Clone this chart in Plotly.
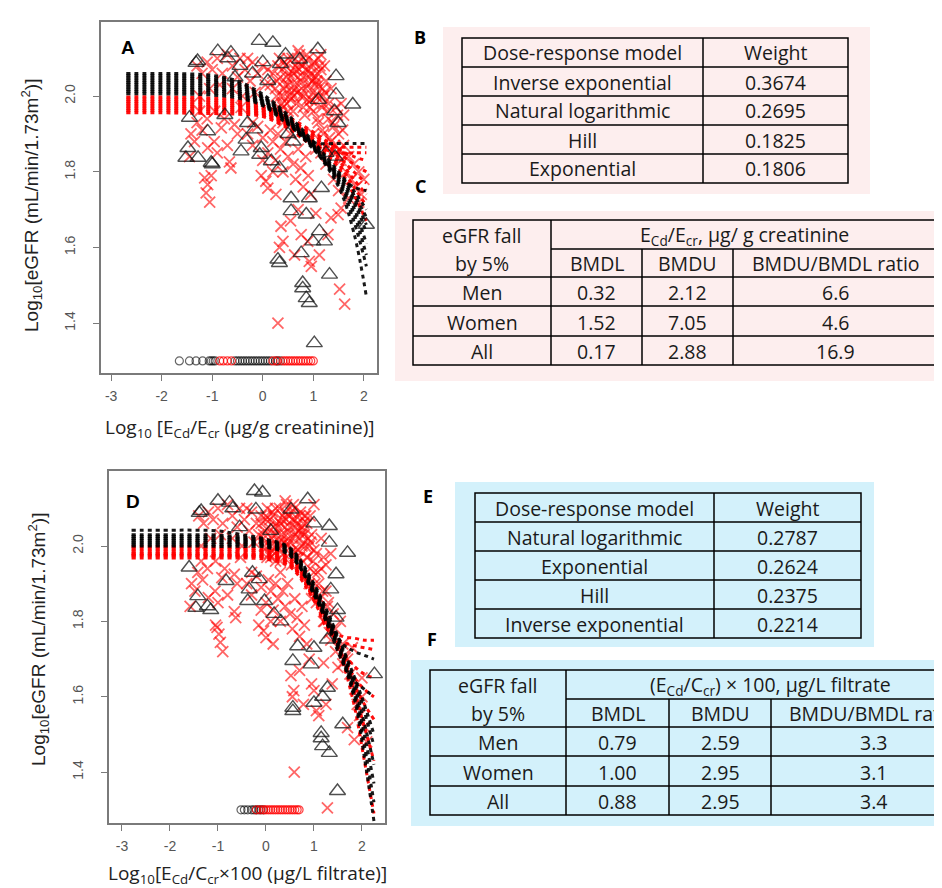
import plotly.graph_objects as go

W, H = 942, 888

# ---------------- DATA ----------------
# Panel A: model curves (x grid + y per curve)
CURVE_X_A = [-2.70, -2.00, -1.50, -1.00, -0.50, 0.00, 0.50, 1.00, 1.50, 1.80, 2.05]
BLACK_CURVES_A = [
    [2.060, 2.060, 2.059, 2.055, 2.040, 2.005, 1.950, 1.880, 1.800, 1.750, 1.700],
    [2.054, 2.054, 2.053, 2.049, 2.035, 2.000, 1.945, 1.875, 1.795, 1.740, 1.680],
    [2.048, 2.048, 2.047, 2.043, 2.030, 1.997, 1.942, 1.872, 1.790, 1.730, 1.660],
    [2.042, 2.042, 2.041, 2.038, 2.025, 1.994, 1.940, 1.870, 1.785, 1.720, 1.640],
    [2.036, 2.036, 2.035, 2.032, 2.020, 1.990, 1.937, 1.868, 1.780, 1.705, 1.610],
    [2.030, 2.030, 2.029, 2.026, 2.015, 1.987, 1.935, 1.866, 1.775, 1.690, 1.580],
    [2.024, 2.024, 2.023, 2.020, 2.010, 1.984, 1.932, 1.864, 1.770, 1.670, 1.550],
    [2.018, 2.018, 2.017, 2.015, 2.005, 1.981, 1.930, 1.862, 1.760, 1.640, 1.470],
    [2.012, 2.012, 2.011, 2.009, 2.000, 1.978, 1.928, 1.860, 1.790, 1.760, 1.750],
    [2.006, 2.006, 2.005, 2.003, 1.995, 1.975, 1.925, 1.878, 1.875, 1.875, 1.875],
]
RED_CURVES_A = [
    [1.998, 1.998, 1.997, 1.995, 1.990, 1.975, 1.945, 1.905, 1.860, 1.840, 1.830],
    [1.992, 1.992, 1.991, 1.989, 1.984, 1.970, 1.940, 1.898, 1.850, 1.820, 1.800],
    [1.986, 1.986, 1.985, 1.983, 1.979, 1.966, 1.935, 1.892, 1.840, 1.800, 1.770],
    [1.980, 1.980, 1.979, 1.977, 1.974, 1.962, 1.930, 1.886, 1.830, 1.780, 1.740],
    [1.974, 1.974, 1.973, 1.971, 1.969, 1.958, 1.926, 1.880, 1.820, 1.760, 1.710],
    [1.968, 1.968, 1.967, 1.965, 1.963, 1.954, 1.922, 1.875, 1.810, 1.740, 1.670],
    [1.962, 1.962, 1.961, 1.960, 1.958, 1.950, 1.918, 1.872, 1.865, 1.865, 1.865],
    [1.956, 1.956, 1.955, 1.954, 1.952, 1.946, 1.914, 1.870, 1.850, 1.850, 1.850],
]

# Panel D: model curves
CURVE_X_D = [-2.80, -2.00, -1.50, -1.00, -0.50, 0.00, 0.50, 1.00, 1.30, 1.60, 1.85, 2.05, 2.25]
BLACK_CURVES_D = [
    [2.042, 2.042, 2.042, 2.040, 2.030, 2.018, 1.995, 1.900, 1.820, 1.730, 1.650, 1.580, 1.500],
    [2.030, 2.030, 2.030, 2.029, 2.024, 2.015, 1.992, 1.895, 1.815, 1.725, 1.640, 1.560, 1.470],
    [2.025, 2.025, 2.025, 2.024, 2.020, 2.012, 1.989, 1.890, 1.808, 1.715, 1.625, 1.530, 1.420],
    [2.020, 2.020, 2.020, 2.019, 2.016, 2.009, 1.986, 1.885, 1.800, 1.705, 1.610, 1.500, 1.370],
    [2.015, 2.015, 2.015, 2.014, 2.012, 2.006, 1.983, 1.880, 1.795, 1.700, 1.600, 1.470, 1.320],
    [2.010, 2.010, 2.010, 2.009, 2.008, 2.003, 1.980, 1.875, 1.790, 1.695, 1.590, 1.440, 1.270],
    [2.005, 2.005, 2.005, 2.004, 2.004, 2.000, 1.977, 1.870, 1.785, 1.690, 1.640, 1.620, 1.600],
    [2.000, 2.000, 2.000, 1.999, 1.999, 1.997, 1.974, 1.880, 1.800, 1.740, 1.720, 1.710, 1.700],
]
RED_CURVES_D = [
    [1.998, 1.998, 1.998, 1.997, 1.995, 1.990, 1.970, 1.880, 1.800, 1.720, 1.680, 1.660, 1.650],
    [1.992, 1.992, 1.992, 1.991, 1.990, 1.985, 1.965, 1.875, 1.795, 1.710, 1.650, 1.620, 1.600],
    [1.986, 1.986, 1.986, 1.985, 1.984, 1.980, 1.960, 1.870, 1.790, 1.705, 1.630, 1.580, 1.540],
    [1.980, 1.980, 1.980, 1.979, 1.978, 1.975, 1.955, 1.865, 1.785, 1.700, 1.610, 1.520, 1.430],
    [1.977, 1.977, 1.977, 1.976, 1.975, 1.972, 1.952, 1.862, 1.782, 1.690, 1.570, 1.430, 1.290],
    [1.974, 1.974, 1.974, 1.974, 1.973, 1.970, 1.950, 1.860, 1.780, 1.760, 1.755, 1.750, 1.750],
    [1.968, 1.968, 1.968, 1.968, 1.968, 1.965, 1.945, 1.855, 1.775, 1.745, 1.735, 1.730, 1.725],
]

# Panel A: triangles (black)
TRI_A_X = [-0.07, 0.20, 1.09, -0.89, -0.63, -0.69, -1.29, -1.32, 0.73, 0.00,
           -0.45, 0.35, 1.45, 1.45, 1.78, 1.10, -1.45, -1.09, -0.30, -0.16,
           -0.33, -0.43, -0.03, -0.06, -1.48, -1.52, -1.28, -1.02, 0.17, 0.33,
           1.49, 1.42, 0.56, 0.92, 0.56, 0.86, 2.05, 1.16, 1.12, 0.99,
           1.22, 0.76, 0.30, 0.33, 1.32, 0.79, 0.79, 0.86, 0.92, 1.02,
           -0.55, -0.20, 0.10, 0.45, 0.60, 1.25, 1.43, 0.50, -0.75, -1.00]
TRI_A_Y = [2.146, 2.141, 2.124, 2.119, 2.115, 2.100, 2.093, 2.088, 2.097, 2.090,
           2.080, 2.085, 2.053, 2.004, 1.978, 1.990, 1.943, 1.907, 1.929, 1.912,
           1.885, 1.854, 1.863, 1.845, 1.863, 1.837, 1.837, 1.824, 1.828, 1.810,
           1.929, 1.960, 1.730, 1.730, 1.696, 1.687, 1.660, 1.757, 1.643, 1.616,
           1.616, 1.585, 1.568, 1.559, 1.528, 1.506, 1.492, 1.466, 1.453, 1.347,
           2.050, 2.060, 2.040, 2.110, 1.880, 1.850, 1.840, 1.900, 1.950, 1.820]

# Panel D: triangles (black)
TRI_D_X = [-0.24, -0.07, 0.87, -1.00, -0.76, -0.69, -1.35, -1.39, 0.52, -0.21,
           1.32, 1.32, 1.70, 1.00, -1.60, -0.83, -0.28, -0.14, -0.35, -0.38,
           -0.03, -1.42, -1.46, -1.22, -1.15, 0.17, 0.31, 1.46, 1.35, 0.66,
           1.00, 0.56, 0.94, 2.26, 1.28, 1.28, 1.18, 1.00, 0.56, 0.56,
           1.60, 1.15, 1.15, 1.18, 1.32, 1.49, 1.46, 1.49, -0.55, 0.10]
TRI_D_Y = [2.146, 2.142, 2.124, 2.120, 2.115, 2.100, 2.093, 2.088, 2.097, 2.097,
           2.053, 2.009, 1.982, 2.060, 1.943, 1.907, 1.929, 1.912, 1.885, 1.854,
           1.854, 1.867, 1.836, 1.840, 1.830, 1.820, 1.800, 1.925, 1.885, 1.734,
           1.730, 1.695, 1.686, 1.660, 1.752, 1.624, 1.600, 1.584, 1.571, 1.562,
           1.527, 1.504, 1.490, 1.469, 1.451, 1.350, 1.810, 1.830, 2.050, 2.040]

# Panel A: red crosses
CROSS_A_X = [0.25, 0.35, 0.40, 0.45, 0.50, 0.55, 0.60, 0.65, 0.70, 0.75,
             0.80, 0.85, 0.90, 0.95, 1.00, 1.05, 1.10, 1.15, 1.20, 0.30,
             0.50, 0.70, 0.90, 1.10, 0.40, 0.60, 0.80, 1.00, 0.55, 0.65,
             0.75, 0.85, 0.95, 1.05, 0.45, 0.35, 0.70, 0.90, 1.25, 1.30,
             0.60, 0.80, 1.00, 0.50, 0.20, 0.15,
             0.28, 0.38, 0.48, 0.58, 0.68, 0.78, 0.88, 0.98, 1.08, 1.18,
             0.32, 0.42, 0.52, 0.62, 0.72, 0.82, 0.92, 1.02, 1.12, 1.22,
             0.27, 0.37, 0.47, 0.57, 0.67, 0.77, 0.87, 0.97, 1.07, 1.17,
             0.33, 0.43, 0.53, 0.63, 0.73, 0.83, 0.93, 1.03, 1.13, 1.23,
             -1.30, -1.20, -1.10, -1.00, -0.90, -0.80, -0.70, -0.60, -0.50, -0.45,
             -0.35, -0.25, -0.20, -0.10, 0.00, 0.05, 0.10, -0.30, -0.60, -0.85,
             -1.05, -1.25, -0.40, -0.15,
             -1.42, -1.35, -1.30, -1.20, -1.10, -1.09, -0.96, -0.82, -0.76, -0.56,
             -0.43, -1.45, -1.05, -1.12, -1.09, -1.15, -1.02, -0.63, -0.66, -0.90,
             -0.70, -0.50, -1.25, -0.95,
             -0.30, -0.20, -0.10, 0.00, 0.10, 0.15, 0.20, 0.25, 0.30, 0.35,
             0.40, 0.45, 0.50, 0.55, 0.60, 0.65, 0.70, 0.75, 0.80, 0.85,
             0.90, 0.95, 0.06, -0.03, 0.10, 0.26, 0.20, 0.00, -0.20, 0.40,
             0.36, 0.40, 0.33, 0.63, 0.76, 0.89, 0.92, 0.96, 1.12, 1.35,
             1.29, 1.55, 1.49, 0.30, 1.52, 1.62, 0.55, 1.05, 0.70,
             1.10, 1.20, 1.30, 1.35, 1.40, 1.45, 1.50, 1.55, 1.60, 1.65,
             1.70, 1.75, 1.80, 1.85, 1.90, 1.95, 2.00, 1.15, 1.25, 1.40,
             1.50, 1.00, 1.05, 1.60, 1.45, 1.20, 1.15, 1.35, 1.55, 1.70, 1.90,
             1.28, 1.38, 1.48, 1.58, 1.32, 1.42, 1.52, 1.62, 1.18, 1.08]
CROSS_A_Y = [2.02, 2.05, 2.00, 2.08, 2.03, 1.99, 2.06, 2.02, 2.09, 2.04,
             2.00, 2.07, 2.03, 2.06, 2.01, 2.05, 2.03, 2.07, 2.00, 2.08,
             2.10, 2.12, 2.10, 2.10, 1.97, 1.96, 1.97, 1.96, 2.05, 2.08,
             2.00, 2.02, 1.99, 2.00, 2.03, 2.00, 2.05, 2.07, 2.04, 1.98,
             2.00, 2.05, 2.08, 1.96, 2.06, 2.03,
             2.04, 2.07, 1.98, 2.10, 2.01, 2.08, 1.99, 2.04, 2.06, 2.02,
             1.97, 2.02, 2.06, 2.03, 2.07, 2.09, 2.05, 2.09, 2.00, 2.08,
             2.00, 1.98, 2.05, 2.01, 1.98, 2.02, 2.11, 1.99, 2.04, 1.97,
             2.10, 2.09, 2.00, 2.07, 2.11, 1.95, 1.97, 2.03, 2.08, 2.01,
             2.08, 2.06, 2.09, 2.07, 2.10, 2.06, 2.11, 2.08, 2.05, 2.10,
             2.07, 2.04, 2.09, 2.06, 2.08, 2.03, 2.07, 2.10, 2.02, 2.03,
             2.02, 2.00, 2.00, 2.01,
             1.90, 1.88, 1.93, 1.91, 1.94, 1.863, 1.88, 1.916, 1.94, 1.925,
             1.97, 1.84, 1.72, 1.744, 1.766, 1.784, 1.79, 1.81, 1.826, 1.85,
             1.87, 1.90, 1.96, 1.96,
             1.90, 1.87, 1.92, 1.89, 1.85, 1.91, 1.88, 1.83, 1.90, 1.86,
             1.80, 1.88, 1.84, 1.90, 1.82, 1.78, 1.86, 1.81, 1.76, 1.84,
             1.79, 1.74, 1.775, 1.79, 1.757, 1.74, 1.80, 1.83, 1.93, 1.93,
             1.656, 1.616, 1.60, 1.58, 1.634, 1.616, 1.563, 1.55, 1.58, 1.678,
             1.634, 1.704, 1.687, 1.40, 1.49, 1.45, 1.67, 1.69, 1.70,
             1.93, 1.90, 1.94, 1.88, 1.92, 1.85, 1.90, 1.83, 1.87, 1.80,
             1.84, 1.78, 1.82, 1.76, 1.80, 1.74, 1.78, 1.85, 1.82, 1.78,
             1.75, 1.90, 1.86, 1.95, 1.97, 1.98, 2.11, 2.02, 1.98, 1.73, 1.72,
             1.96, 1.93, 1.95, 1.91, 1.89, 1.87, 1.86, 1.84, 1.91, 1.94]

# Panel D: red crosses
CROSS_D_X = [-0.05, 0.05, 0.10, 0.15, 0.20, 0.25, 0.30, 0.35, 0.40, 0.45,
             0.50, 0.55, 0.60, 0.65, 0.70, 0.75, 0.80, 0.85, 0.90, 0.00,
             0.20, 0.40, 0.60, 0.80, 0.10, 0.30, 0.50, 0.70, 0.25, 0.35,
             0.45, 0.55, 0.65, 0.75, 0.15, 0.05, 0.40, 0.60, 0.95, 1.00,
             0.30, 0.50, 0.70, 0.20, -0.10, -0.15,
             -0.02, 0.08, 0.18, 0.28, 0.38, 0.48, 0.58, 0.68, 0.78, 0.88,
             0.02, 0.12, 0.22, 0.32, 0.42, 0.52, 0.62, 0.72, 0.82, 0.92,
             -0.03, 0.07, 0.17, 0.27, 0.37, 0.47, 0.57, 0.67, 0.77, 0.87,
             0.03, 0.13, 0.23, 0.33, 0.43, 0.53, 0.63, 0.73, 0.83, 0.93,
             -1.40, -1.30, -1.20, -1.10, -1.00, -0.90, -0.80, -0.70, -0.60, -0.55,
             -0.45, -0.35, -0.30, -0.20, -0.10, -0.05, 0.00, -0.40, -0.70, -0.95,
             -1.15, -1.35, -0.50, -0.25,
             -1.55, -1.48, -1.42, -1.32, -1.22, -1.20, -1.06, -0.92, -0.86, -0.66,
             -0.53, -1.58, -0.90, -0.95, -0.98, -1.02, -1.05, -0.63, -0.66, -1.00,
             -0.80, -0.60, -1.35, -1.05,
             -0.40, -0.30, -0.20, -0.10, 0.00, 0.05, 0.10, 0.15, 0.20, 0.25,
             0.30, 0.35, 0.40, 0.45, 0.50, 0.55, 0.60, 0.65, 0.70, 0.75,
             0.80, 0.85, -0.05, -0.15, 0.00, 0.15, 0.10, -0.10, -0.30, 0.30,
             0.52, 0.58, 0.55, 0.78, 0.95, 1.00, 1.05, 1.10, 1.25, 1.50,
             1.38, 1.65, 1.60, 0.59, 1.70, 1.84, 0.70, 1.20, 0.90, 1.28,
             1.00, 1.10, 1.15, 1.25, 1.30, 1.40, 1.45, 1.55, 1.60, 1.70,
             1.75, 1.85, 1.90, 1.95, 2.00, 2.05, 2.10, 1.05, 1.20, 1.35,
             1.45, 0.90, 0.95, 1.25, 1.20, 1.05, 1.00, 1.15, 1.35, 1.80, 2.00,
             0.98, 1.08, 1.18, 1.28, 1.02, 1.12, 1.22, 1.32, 0.92, 0.85]
CROSS_D_Y = [2.02, 2.05, 2.00, 2.08, 2.03, 1.99, 2.06, 2.02, 2.09, 2.04,
             2.01, 2.07, 2.03, 2.06, 2.02, 2.05, 2.03, 2.06, 2.00, 2.08,
             2.10, 2.12, 2.10, 2.08, 1.97, 1.96, 1.98, 1.97, 2.05, 2.08,
             2.00, 2.02, 1.99, 2.00, 2.03, 2.00, 2.05, 2.07, 2.03, 1.99,
             2.00, 2.05, 2.08, 1.96, 2.06, 2.03,
             2.04, 2.07, 1.98, 2.10, 2.01, 2.08, 1.99, 2.04, 2.06, 2.02,
             1.97, 2.02, 2.06, 2.03, 2.07, 2.09, 2.05, 2.09, 2.00, 2.08,
             2.00, 1.98, 2.05, 2.01, 1.98, 2.02, 2.11, 1.99, 2.04, 1.97,
             2.10, 2.09, 2.00, 2.07, 2.11, 1.95, 1.97, 2.03, 2.08, 2.01,
             2.08, 2.06, 2.09, 2.07, 2.10, 2.06, 2.11, 2.08, 2.05, 2.10,
             2.07, 2.04, 2.09, 2.06, 2.08, 2.03, 2.07, 2.10, 2.02, 2.03,
             2.02, 2.00, 2.00, 2.01,
             1.90, 1.88, 1.93, 1.91, 1.94, 1.863, 1.88, 1.916, 1.94, 1.925,
             1.97, 1.84, 1.72, 1.744, 1.766, 1.784, 1.79, 1.81, 1.826, 1.85,
             1.87, 1.90, 1.96, 1.96,
             1.90, 1.87, 1.92, 1.89, 1.85, 1.91, 1.88, 1.83, 1.90, 1.86,
             1.80, 1.88, 1.84, 1.90, 1.82, 1.78, 1.86, 1.81, 1.76, 1.84,
             1.79, 1.74, 1.775, 1.79, 1.757, 1.74, 1.80, 1.83, 1.93, 1.93,
             1.656, 1.616, 1.60, 1.58, 1.634, 1.616, 1.563, 1.55, 1.58, 1.678,
             1.634, 1.704, 1.687, 1.40, 1.518, 1.486, 1.67, 1.69, 1.70, 1.305,
             1.93, 1.90, 1.94, 1.88, 1.85, 1.82, 1.78, 1.80, 1.74, 1.70,
             1.66, 1.62, 1.58, 1.55, 1.60, 1.52, 1.48, 1.85, 1.80, 1.75,
             1.72, 1.90, 1.86, 1.95, 1.97, 1.98, 2.11, 2.02, 1.98, 1.73, 1.65,
             1.96, 1.93, 1.88, 1.84, 1.90, 1.86, 1.80, 1.77, 1.94, 1.97]

# Open circles along the bottom (eGFR level 1.30)
CIRCLE_LEVEL = 1.30
CIRC_A_BLACK_X = [-1.65, -1.45, -1.32, -1.19, -1.06, -1.02, -0.98, -0.94, -0.55, -0.50,
                  -0.45, -0.40, -0.35, -0.30, -0.25, -0.20, -0.15, -0.10, -0.05, 0.00,
                  0.05, 0.10, 0.15, 0.25, 0.30, 0.35]
CIRC_A_RED_X = [-0.85, -0.78, -0.70, -0.62, 0.20, 0.28, 0.40, 0.45, 0.50, 0.55,
                0.60, 0.65, 0.70, 0.75, 0.80, 0.85, 0.90, 0.95, 1.00]
CIRC_D_BLACK_X = [-0.52, -0.45, -0.38, -0.30, -0.25, -0.20, -0.15, -0.10, -0.05]
CIRC_D_RED_X = [-0.20, -0.12, -0.05, 0.00, 0.05, 0.10, 0.15, 0.20, 0.25, 0.30,
                0.35, 0.40, 0.45, 0.50, 0.55, 0.60, 0.65, 0.69]

# Tables
TAB_B_MODELS = ["Dose-response model", "Inverse exponential", "Natural logarithmic", "Hill", "Exponential"]
TAB_B_WEIGHTS = ["Weight", "0.3674", "0.2695", "0.1825", "0.1806"]
TAB_E_MODELS = ["Dose-response model", "Natural logarithmic", "Exponential", "Hill", "Inverse exponential"]
TAB_E_WEIGHTS = ["Weight", "0.2787", "0.2624", "0.2375", "0.2214"]
GROUPS = ["Men", "Women", "All"]
SUBHEAD = ["BMDL", "BMDU", "BMDU/BMDL ratio"]
TAB_C_BMDL = ["0.32", "1.52", "0.17"]
TAB_C_BMDU = ["2.12", "7.05", "2.88"]
TAB_C_RATIO = ["6.6", "4.6", "16.9"]
TAB_F_BMDL = ["0.79", "1.00", "0.88"]
TAB_F_BMDU = ["2.59", "2.95", "2.95"]
TAB_F_RATIO = ["3.3", "3.1", "3.4"]

# ---------------- FIGURE ----------------
def PX(x):
    return x / W

def PY(y):
    return 1 - y / H

fig = go.Figure()

BLACK_LINE = "rgba(0,0,0,0.9)"
RED_LINE = "rgba(255,0,0,0.95)"
DASH = "4px,4px"
CROSS_COL = "rgba(255,0,0,0.6)"
TRI_COL = "rgba(20,20,20,0.75)"

def add_panel(xa, ya, cx, blacks, reds, cross_x, cross_y, tri_x, tri_y, cb, cr):
    fig.add_trace(go.Scatter(x=cross_x, y=cross_y, mode="markers", xaxis=xa, yaxis=ya,
                             marker=dict(symbol="x-thin-open", size=11, color=CROSS_COL,
                                         line=dict(color=CROSS_COL, width=1.8)),
                             hoverinfo="skip"))
    for c in reds:
        fig.add_trace(go.Scatter(x=cx, y=c, mode="lines", xaxis=xa, yaxis=ya,
                                 line=dict(color=RED_LINE, width=3, dash=DASH, shape="spline"),
                                 hoverinfo="skip"))
    for c in blacks:
        fig.add_trace(go.Scatter(x=cx, y=c, mode="lines", xaxis=xa, yaxis=ya,
                                 line=dict(color=BLACK_LINE, width=3, dash=DASH, shape="spline"),
                                 hoverinfo="skip"))
    fig.add_trace(go.Scatter(x=tri_x, y=tri_y, mode="markers", xaxis=xa, yaxis=ya,
                             marker=dict(symbol="triangle-up-open", size=14, color=TRI_COL,
                                         line=dict(color=TRI_COL, width=1.4)),
                             hoverinfo="skip"))
    fig.add_trace(go.Scatter(x=cb, y=[CIRCLE_LEVEL] * len(cb), mode="markers", xaxis=xa, yaxis=ya,
                             marker=dict(symbol="circle-open", size=8, color="rgba(0,0,0,0.6)",
                                         line=dict(color="rgba(0,0,0,0.6)", width=1.2)),
                             hoverinfo="skip"))
    fig.add_trace(go.Scatter(x=cr, y=[CIRCLE_LEVEL] * len(cr), mode="markers", xaxis=xa, yaxis=ya,
                             marker=dict(symbol="circle-open", size=8, color="rgba(255,0,0,0.75)",
                                         line=dict(color="rgba(255,0,0,0.75)", width=1.2)),
                             hoverinfo="skip"))

add_panel("x", "y", CURVE_X_A, BLACK_CURVES_A, RED_CURVES_A, CROSS_A_X, CROSS_A_Y,
          TRI_A_X, TRI_A_Y, CIRC_A_BLACK_X, CIRC_A_RED_X)
add_panel("x2", "y2", CURVE_X_D, BLACK_CURVES_D, RED_CURVES_D, CROSS_D_X, CROSS_D_Y,
          TRI_D_X, TRI_D_Y, CIRC_D_BLACK_X, CIRC_D_RED_X)

axis_common = dict(showline=True, mirror=True, linecolor="#7a7a7a", linewidth=1.5,
                   ticks="outside", ticklen=6, tickwidth=1.2, tickcolor="#7a7a7a",
                   showgrid=False, zeroline=False,
                   tickfont=dict(family="Liberation Sans, Arial", size=14, color="#555555"))
xt = dict(tickmode="array", tickvals=[-3, -2, -1, 0, 1, 2], ticktext=["-3", "-2", "-1", "0", "1", "2"],
          ticklabelstandoff=3)
yt = dict(tickmode="array", tickvals=[1.4, 1.6, 1.8, 2.0], ticktext=["1.4", "1.6", "1.8", "2.0"],
          tickangle=-90, ticklabelstandoff=13)

fig.update_layout(
    width=W, height=H, margin=dict(l=0, r=0, t=0, b=0),
    paper_bgcolor="white", plot_bgcolor="white", showlegend=False, hovermode=False,
    xaxis=dict(domain=[PX(93), PX(369)], range=[-3.2, 2.26], anchor="y", **axis_common, **xt),
    yaxis=dict(domain=[PY(365), PY(14)], range=[1.268, 2.196], anchor="x", **axis_common, **yt),
    xaxis2=dict(domain=[PX(101), PX(377)], range=[-3.27, 2.48], anchor="y2", **axis_common, **xt),
    yaxis2=dict(domain=[PY(815), PY(463)], range=[1.265, 2.199], anchor="x2", **axis_common, **yt),
)

shapes = []
annots = []

def rect(x0, y0, x1, y1, fill=None, line=True):
    shapes.append(dict(type="rect", xref="paper", yref="paper",
                       x0=PX(x0), x1=PX(x1), y0=PY(y1), y1=PY(y0), layer="below",
                       fillcolor=fill if fill else "rgba(0,0,0,0)",
                       line=dict(color="black", width=1.5) if line else dict(width=0)))

def hline(x0, x1, y):
    shapes.append(dict(type="line", xref="paper", yref="paper", x0=PX(x0), x1=PX(x1),
                       y0=PY(y), y1=PY(y), line=dict(color="black", width=1.5)))

def vline(x, y0, y1):
    shapes.append(dict(type="line", xref="paper", yref="paper", x0=PX(x), x1=PX(x),
                       y0=PY(y0), y1=PY(y1), line=dict(color="black", width=1.5)))

TFONT = dict(family="Open Sans, sans-serif", size=19.5, color="#1a1a1a")

def text(x, y, s, font=None, angle=0, xanchor="center"):
    annots.append(dict(x=PX(x), y=PY(y), xref="paper", yref="paper", text=s, showarrow=False,
                       xanchor=xanchor, yanchor="middle", textangle=angle,
                       font=font if font else TFONT))

PINK = "#fdeeee"
BLUE = "#d3f1fb"

# --- Table B ---
rect(435, 19, 862, 186, fill=PINK, line=False)
rect(454, 30, 840, 175)
for yy in [59, 88, 117, 146]:
    hline(454, 840, yy)
vline(695, 30, 175)
rows_b = [45, 74, 103, 132, 161]
for i in range(5):
    text(574.5, rows_b[i], TAB_B_MODELS[i])
    text(767.5, rows_b[i], TAB_B_WEIGHTS[i])

# --- Table C ---
rect(387, 203, 960, 373, fill=PINK, line=False)
rect(405, 212, 930, 357)
vline(543, 212, 357)
vline(634, 241, 357)
vline(725, 241, 357)
hline(543, 930, 241)
for yy in [269, 298, 328]:
    hline(405, 930, yy)
text(474, 227.5, "eGFR fall")
text(474, 256, "by 5%")
text(736.5, 227, "E<sub>Cd</sub>/E<sub>cr</sub>, μg/ g creatinine")
colc = [588.5, 679.5, 827.5]
for j in range(3):
    text(colc[j], 256, SUBHEAD[j])
rows_c = [284.5, 314, 343.5]
for i in range(3):
    text(474, rows_c[i], GROUPS[i])
    text(colc[0], rows_c[i], TAB_C_BMDL[i])
    text(colc[1], rows_c[i], TAB_C_BMDU[i])
    text(colc[2], rows_c[i], TAB_C_RATIO[i])

# --- Table E ---
rect(447, 474, 866, 639, fill=BLUE, line=False)
rect(467, 485, 853, 630)
for yy in [514, 543, 572, 601]:
    hline(467, 853, yy)
vline(706, 485, 630)
rows_e = [500, 529, 558, 587, 616]
for i in range(5):
    text(586.5, rows_e[i], TAB_E_MODELS[i])
    text(779.5, rows_e[i], TAB_E_WEIGHTS[i])

# --- Table F ---
rect(403, 652, 990, 818, fill=BLUE, line=False)
rect(422, 662, 967, 807)
vline(558, 662, 807)
vline(661, 691, 807)
vline(763, 691, 807)
hline(558, 967, 691)
for yy in [719, 748, 778]:
    hline(422, 967, yy)
text(490, 677, "eGFR fall")
text(490, 705.5, "by 5%")
text(762.5, 677, "(E<sub>Cd</sub>/C<sub>cr</sub>) × 100, μg/L filtrate")
colf = [609.5, 712, 865]
for j in range(3):
    text(colf[j], 705.5, SUBHEAD[j])
rows_f = [734.5, 764, 793.5]
for i in range(3):
    text(490, rows_f[i], GROUPS[i])
    text(colf[0], rows_f[i], TAB_F_BMDL[i])
    text(colf[1], rows_f[i], TAB_F_BMDU[i])
    text(colf[2], rows_f[i], TAB_F_RATIO[i])

# --- Panel letters ---
LFONT_PLOT = dict(family="Liberation Sans, Arial", size=19, color="black")
LFONT_TAB = dict(family="Open Sans, sans-serif", size=18, color="black")
text(120, 40, "<b>A</b>", LFONT_PLOT)
text(125, 493, "<b>D</b>", LFONT_PLOT)
text(412, 29, "<b>B</b>", LFONT_TAB)
text(412, 178, "<b>C</b>", LFONT_TAB)
text(420, 488, "<b>E</b>", LFONT_TAB)
text(424, 631, "<b>F</b>", LFONT_TAB)

# --- Axis titles ---
YFONT = dict(family="Liberation Sans, Arial", size=19, color="#222222")
XFONT = dict(family="Open Sans, sans-serif", size=19, color="#222222")
ytitle = "Log<sub>10</sub>[eGFR (mL/min/1.73m<sup>2</sup>)]"
text(23, 198, ytitle, YFONT, angle=-90)
text(30, 632, ytitle, YFONT, angle=-90)
text(232, 420, "Log<sub>10</sub> [E<sub>Cd</sub>/E<sub>cr</sub> (μg/g creatinine)]", XFONT)
text(239, 866, "Log<sub>10</sub>[E<sub>Cd</sub>/C<sub>cr</sub>×100 (μg/L filtrate)]", XFONT)

fig.update_layout(shapes=shapes, annotations=annots)

fig.write_html("out.html")
